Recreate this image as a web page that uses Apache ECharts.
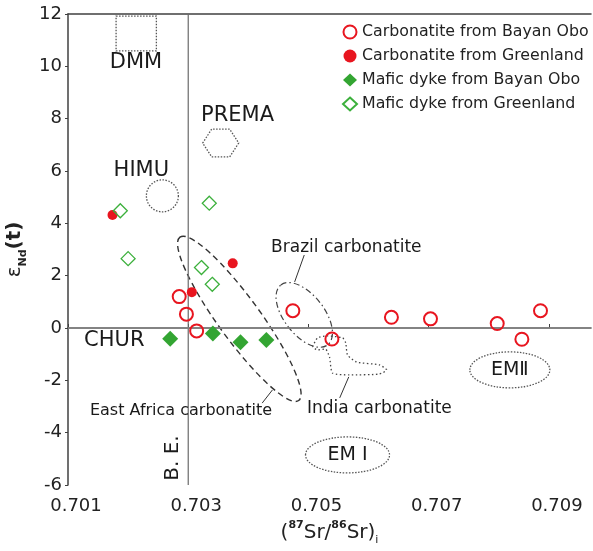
<!DOCTYPE html>
<html lang="en">
<head>
<meta charset="UTF-8">
<title>Sr-Nd isotopes</title>
<script src="https://cdn.jsdelivr.net/npm/echarts@6/dist/echarts.min.js"></script>
<style>
    html, body { margin: 0; padding: 0; background: #fff; }
    #main { width: 593px; height: 551px; }
</style>
</head>
<body>
<div id="main"></div>
<script type="text/javascript">
    // points: [(87Sr/86Sr)i, eNd(t)]
    var carbBayanObo = [[0.70285, 1.20], [0.70297, 0.53], [0.70314, -0.11], [0.70474, 0.66], [0.70539, -0.42],
        [0.70638, 0.41], [0.70703, 0.35], [0.70814, 0.17], [0.70855, -0.43], [0.70886, 0.66]];
    var carbGreenland = [[0.70174, 4.32], [0.70306, 1.37], [0.70374, 2.47]];
    var maficBayanObo = [[0.7027, -0.41], [0.70341, -0.21], [0.70387, -0.54], [0.7043, -0.46]];
    var maficGreenland = [[0.70187, 4.48], [0.702, 2.65], [0.70335, 4.77], [0.70322, 2.31], [0.7034, 1.67]];

    var xTicks = [0.701, 0.703, 0.705, 0.707, 0.709];
    var yTicks = [-6, -4, -2, 0, 2, 4, 6, 8, 10, 12];

    // reference lines: bulk earth and CHUR
    var bulkEarthLine = [[0.703, -6], [0.703, 12]];
    var churLine = [[0.701, 0], [0.7097, 0]];

    // reservoir / field annotations (data coords)
    var dmmBox = [[0.7018, 11.92], [0.70247, 10.59]];
    var himuCenter = [0.70257, 5.05];
    var premaCenter = [0.70354, 7.07];
    var em1Center = [0.70565, -4.85];
    var em2Center = [0.70835, -1.60];
    var eastAfricaCenter = [0.70385, 0.35];
    var brazilCenter = [0.70493, 0.50];
    var indiaOutline = [[0.705067, -0.72], [0.70515, -0.38], [0.7053, -0.30], [0.70557, -0.38], [0.70562, -0.57],
        [0.70565, -1.03], [0.7058, -1.30], [0.70618, -1.41], [0.7063, -1.60], [0.70618, -1.76], [0.70568, -1.79],
        [0.7054, -1.72], [0.70535, -1.11], [0.70528, -0.80], [0.70515, -0.84], [0.705067, -0.72]];
    var leaders = [
        [[0.70493, 2.79], [0.70477, 1.76]],
        [[0.7044, -2.37], [0.70423, -2.87]],
        [[0.70567, -1.87], [0.70552, -2.67]]
    ];
    var labels = [
        {text: 'DMM', at: [0.70213, 10.15], size: 21},
        {text: 'PREMA', at: [0.70382, 8.12], size: 21},
        {text: 'HIMU', at: [0.70222, 6.02], size: 21},
        {text: 'CHUR', at: [0.70177, -0.48], size: 21},
        {text: 'B. E.', at: [0.70275, -4.97], size: 20, rotate: true},
        {text: 'Brazil carbonatite', at: [0.70563, 3.06], size: 17},
        {text: 'East Africa carbonatite', at: [0.70288, -3.17], size: 16},
        {text: 'India carbonatite', at: [0.70618, -3.09], size: 17},
        {text: 'EM Ⅰ', at: [0.70565, -4.85], size: 19},
        {text: 'EMⅡ', at: [0.70835, -1.60], size: 19}
    ];

    var FONT = 'DejaVu Sans';
    var red = '#e8151f';
    var green = '#33a532';
    var axisColor = '#404040';

    var chart = echarts.init(document.getElementById('main'));

    function refLine(name, pts, color, width) {
        return {
            name: name, type: 'line', data: pts, symbol: 'none', silent: true, z: 1,
            lineStyle: {color: color, width: width}
        };
    }

    var option = {
        animation: false,
        textStyle: {fontFamily: FONT},
        grid: {left: 68, right: 2, top: 14, bottom: 66, outerBoundsMode: 'none'},
        legend: {
            orient: 'vertical',
            left: 337,
            top: 19,
            itemWidth: 14,
            itemHeight: 13,
            itemGap: 8,
            textStyle: {fontFamily: FONT, fontSize: 15.8, color: '#222'},
            data: ['Carbonatite from Bayan Obo', 'Carbonatite from Greenland',
                'Mafic dyke from Bayan Obo', 'Mafic dyke from Greenland']
        },
        xAxis: [{
            type: 'value',
            min: 0.701,
            max: 0.7097,
            interval: 0.002,
            name: '({s|87}Sr/{s|86}Sr){b|i}',
            nameLocation: 'middle',
            nameGap: 34,
            nameTextStyle: {
                fontFamily: FONT, fontSize: 20, color: '#222', lineHeight: 26,
                rich: {
                    s: {fontFamily: FONT, fontSize: 11, fontWeight: 'bold', color: '#222', lineHeight: 11, verticalAlign: 'top'},
                    b: {fontFamily: FONT, fontSize: 11, color: '#222', lineHeight: 11, verticalAlign: 'bottom'}
                }
            },
            axisLine: {lineStyle: {color: axisColor, width: 1.5}},
            axisTick: {inside: true, length: 4, customValues: xTicks, lineStyle: {color: axisColor}},
            axisLabel: {
                customValues: xTicks,
                fontFamily: FONT, fontSize: 18, color: '#222', margin: 12,
                padding: [0, 0, 0, 16],
                formatter: function (v) { return v.toFixed(3); }
            },
            splitLine: {show: false}
        }, {
            type: 'value',
            position: 'top',
            min: 0.701,
            max: 0.7097,
            axisLine: {show: true, lineStyle: {color: axisColor, width: 1.5}},
            axisTick: {show: false},
            axisLabel: {show: false},
            splitLine: {show: false}
        }],
        yAxis: {
            type: 'value',
            min: -6,
            max: 12,
            interval: 2,
            name: '{e|ε}{n|Nd}{t|(t)}',
            nameLocation: 'middle',
            nameRotate: 90,
            nameGap: 30,
            nameTextStyle: {
                fontFamily: FONT, fontSize: 20, color: '#222', lineHeight: 26,
                rich: {
                    e: {fontFamily: FONT, fontSize: 20, color: '#222', lineHeight: 26},
                    n: {fontFamily: FONT, fontSize: 11, fontWeight: 'bold', color: '#222', lineHeight: 11, verticalAlign: 'bottom'},
                    t: {fontFamily: FONT, fontSize: 20, fontWeight: 'bold', color: '#222', lineHeight: 26}
                }
            },
            axisLine: {show: true, lineStyle: {color: axisColor, width: 1.5}},
            axisTick: {show: true, length: 3, lineStyle: {color: axisColor}},
            axisLabel: {fontFamily: FONT, fontSize: 18, color: '#222', margin: 6},
            splitLine: {show: false}
        },
        series: [
            refLine('B. E.', bulkEarthLine, '#6a6a6a', 1.2),
            refLine('CHUR', churLine, '#8a8a8a', 1.5),
            {
                name: 'India carbonatite',
                type: 'line',
                data: indiaOutline,
                smooth: 0.2,
                symbol: 'none',
                silent: true,
                z: 1,
                lineStyle: {color: '#444', width: 1.3, type: [1.5, 2.5]},
                markLine: {
                    silent: true,
                    symbol: 'none',
                    label: {show: false},
                    data: leaders.map(function (seg) {
                        return [{coord: seg[0], lineStyle: {color: '#333', width: 1, type: 'solid'}}, {coord: seg[1]}];
                    })
                }
            },
            {
                name: 'Carbonatite from Bayan Obo',
                type: 'scatter',
                symbol: 'circle',
                symbolSize: 13,
                z: 5,
                itemStyle: {color: 'rgba(255,255,255,0)', borderColor: red, borderWidth: 2, opacity: 1},
                data: carbBayanObo
            },
            {
                name: 'Carbonatite from Greenland',
                type: 'scatter',
                symbol: 'circle',
                symbolSize: 10,
                z: 5,
                itemStyle: {color: red, opacity: 1},
                data: carbGreenland
            },
            {
                name: 'Mafic dyke from Bayan Obo',
                type: 'scatter',
                symbol: 'diamond',
                symbolSize: [16, 16],
                z: 5,
                itemStyle: {color: green, opacity: 1},
                data: maficBayanObo
            },
            {
                name: 'Mafic dyke from Greenland',
                type: 'scatter',
                symbol: 'diamond',
                symbolSize: [14, 14],
                z: 5,
                itemStyle: {color: 'rgba(255,255,255,0)', borderColor: '#3cb03c', borderWidth: 1.3, opacity: 1},
                data: maficGreenland
            }
        ]
    };

    chart.setOption(option);

    // outlines and labels positioned through the axes
    function px(p) { return chart.convertToPixel({seriesIndex: 3}, p); }

    var dotted = {fill: 'none', stroke: '#555', lineWidth: 1.3, lineDash: [1.5, 1.5]};
    var shapes = [];

    var b0 = px(dmmBox[0]), b1 = px(dmmBox[1]);
    shapes.push({type: 'rect', silent: true, shape: {x: b0[0], y: b0[1], width: b1[0] - b0[0], height: b1[1] - b0[1]}, style: dotted});

    var h = px(himuCenter);
    shapes.push({type: 'circle', silent: true, shape: {cx: h[0], cy: h[1], r: 16}, style: dotted});

    var p = px(premaCenter);
    var hex = [];
    for (var i = 0; i < 6; i++) {
        hex.push([p[0] + 18 * Math.cos(i * Math.PI / 3), p[1] + 16 * Math.sin(i * Math.PI / 3)]);
    }
    shapes.push({type: 'polygon', silent: true, shape: {points: hex}, style: dotted});

    function ellipse(c, rx, ry, rot, style) {
        var q = px(c);
        return {type: 'ellipse', silent: true, x: q[0], y: q[1], rotation: rot,
            shape: {cx: 0, cy: 0, rx: rx, ry: ry}, style: style};
    }
    shapes.push(ellipse(em1Center, 42, 18, 0, dotted));
    shapes.push(ellipse(em2Center, 40, 18, 0, dotted));
    shapes.push(ellipse(eastAfricaCenter, 101, 21, -54 * Math.PI / 180,
        {fill: 'none', stroke: '#333', lineWidth: 1.4, lineDash: [6, 4]}));
    shapes.push(ellipse(brazilCenter, 38, 20, -52 * Math.PI / 180,
        {fill: 'none', stroke: '#444', lineWidth: 1.2, lineDash: [6, 3, 1.5, 3]}));

    labels.forEach(function (l) {
        var q = px(l.at);
        shapes.push({
            type: 'text', silent: true, z: 10,
            x: q[0], y: q[1],
            rotation: l.rotate ? Math.PI / 2 : 0,
            style: {
                text: l.text,
                font: l.size + 'px "' + FONT + '", "Noto Sans CJK SC"',
                fill: '#1a1a1a',
                align: 'center', verticalAlign: 'middle',
                textAlign: 'center', textVerticalAlign: 'middle'
            }
        });
    });

    chart.setOption({graphic: shapes});
</script>
</body>
</html>
